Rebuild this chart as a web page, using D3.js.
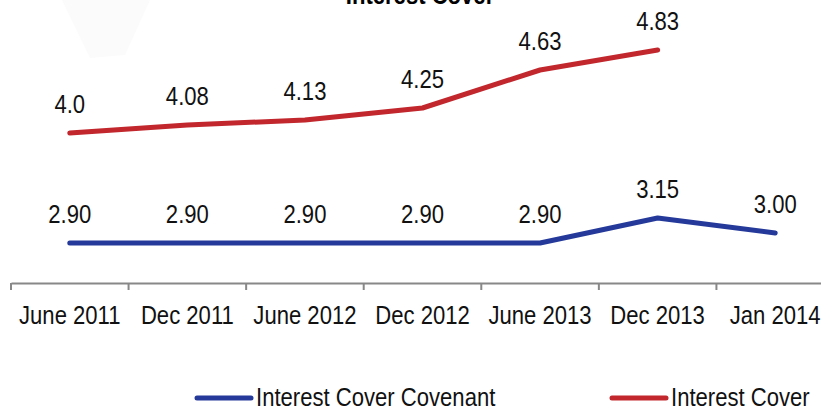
<!DOCTYPE html>
<html><head><meta charset="utf-8">
<script src="https://cdn.jsdelivr.net/npm/d3@7"></script>
<style>body{margin:0;background:#fff}svg{display:block}text{font-family:"Liberation Sans Narrow","Arial Narrow","Liberation Sans",sans-serif}</style>
</head><body><svg id="c" width="821" height="410"></svg>
<script>
const categories=["June 2011","Dec 2011","June 2012","Dec 2012","June 2013","Dec 2013","Jan 2014"];
const covenant=[2.90,2.90,2.90,2.90,2.90,3.15,3.00];
const covenantLabels=["2.90","2.90","2.90","2.90","2.90","3.15","3.00"];
const cover=[4.0,4.08,4.13,4.25,4.63,4.83,null];
const coverLabels=["4.0","4.08","4.13","4.25","4.63","4.83",null];
const seriesNames=["Interest Cover Covenant","Interest Cover"];
const colors=["#24399a","#c1272d"];

const SX=0.85, FS=26;
const svg=d3.select("#c");
// faint watermark shape
svg.append("path").attr("d","M62,0 L150,0 L125,55 L90,58 Z").attr("fill","#fbfbfb");

const x=d3.scaleBand().domain(categories).range([11,834]).paddingInner(0).paddingOuter(0);
const y=d3.scaleLinear().domain([2.5,5.0]).range([283,33]);

function ctext(g,tx,ty,str,anchor){
  return g.append("text").attr("transform",`translate(${tx},${ty}) scale(${SX},1)`)
   .attr("text-anchor",anchor||"middle").attr("font-size",FS).attr("fill","#111").text(str);
}

svg.append("text").attr("transform","translate(420,4) scale(0.85,1)").attr("text-anchor","middle")
 .attr("font-size",26).attr("font-weight","bold").attr("fill","#000").text("Interest Cover");

const ax=svg.append("g").attr("transform","translate(0,283)").call(d3.axisBottom(x).tickSize(0).tickSizeOuter(0));
ax.select(".domain").attr("stroke","#888").attr("stroke-width",2);
ax.selectAll(".tick text").remove();
ax.selectAll(".tick").each(function(d){ ctext(d3.select(this),0,41,d); });
// category boundary ticks
const bounds=categories.map(c=>x(c)).concat([x(categories[categories.length-1])+x.bandwidth()]);
svg.append("g").selectAll("line").data(bounds).join("line")
 .attr("x1",d=>d).attr("x2",d=>d).attr("y1",283).attr("y2",290).attr("stroke","#888").attr("stroke-width",2);

const cx=c=>x(c)+x.bandwidth()/2;
const line=d3.line().defined(d=>d.v!=null).x(d=>cx(d.c)).y(d=>y(d.v));
const data=[covenant,cover];
const labs=[covenantLabels,coverLabels];
data.forEach((arr,i)=>{
  const pts=categories.map((c,j)=>({c,v:arr[j],l:labs[i][j]}));
  svg.append("path").datum(pts).attr("d",line).attr("fill","none").attr("stroke",colors[i])
   .attr("stroke-width",5).attr("stroke-linecap","round").attr("stroke-linejoin","round");
  const g=svg.append("g");
  pts.filter(d=>d.v!=null).forEach(d=>ctext(g,cx(d.c),y(d.v)-20,d.l));
});

// legend
const leg=[{x:197,n:seriesNames[0],c:colors[0]},{x:612,n:seriesNames[1],c:colors[1]}];
leg.forEach(l=>{
  svg.append("line").attr("x1",l.x).attr("x2",l.x+54).attr("y1",398).attr("y2",398)
   .attr("stroke",l.c).attr("stroke-width",5).attr("stroke-linecap","round");
  ctext(svg,l.x+59,406,l.n,"start");
});
</script></body></html>
